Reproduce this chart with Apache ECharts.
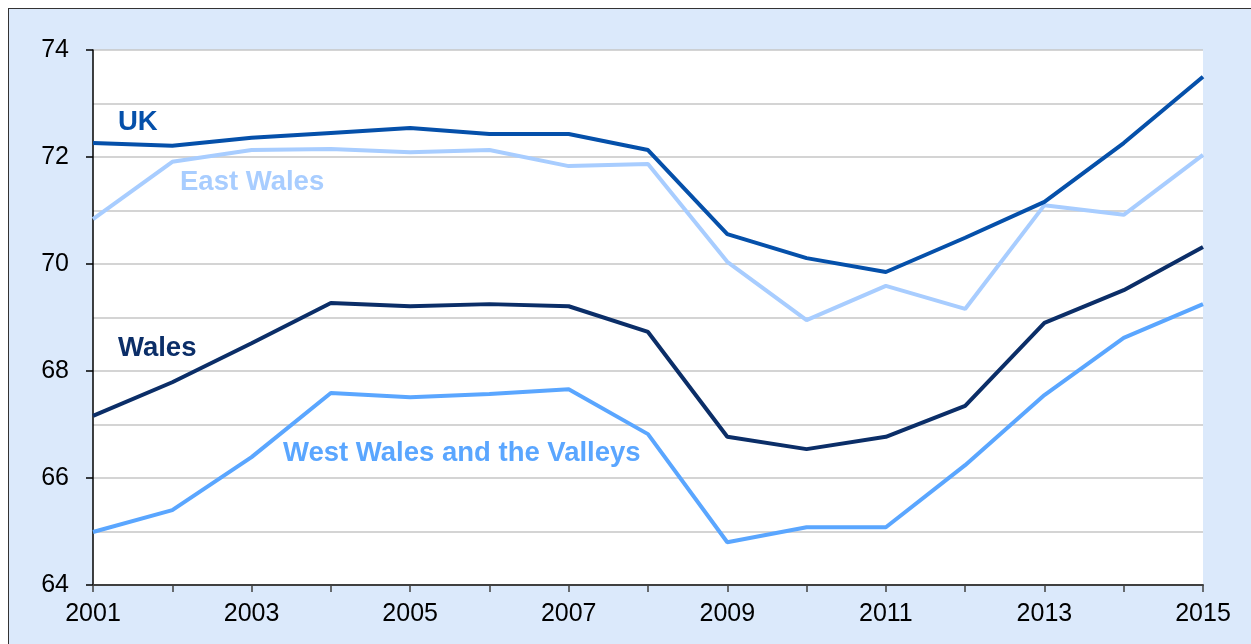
<!DOCTYPE html>
<html><head><meta charset="utf-8">
<script src="https://cdn.jsdelivr.net/npm/echarts@6/dist/echarts.min.js"></script>
<style>
html,body{margin:0;padding:0;background:#fff;width:1251px;height:644px;overflow:hidden;}
#panel{position:absolute;left:8px;top:8px;width:1300px;height:700px;background:#dbe9fb;border-left:1px solid #333;border-top:1px solid #333;}
#chart{position:absolute;left:0;top:0;width:1251px;height:644px;}
</style></head>
<body>
<div id="panel"></div>
<div id="chart"></div>
<script>
const years = [2001,2002,2003,2004,2005,2006,2007,2008,2009,2010,2011,2012,2013,2014,2015];
const uk        = [72.26,72.21,72.36,72.45,72.54,72.43,72.43,72.13,70.56,70.11,69.85,70.49,71.16,72.26,73.50];
const eastWales = [70.84,71.91,72.13,72.15,72.09,72.13,71.83,71.87,70.04,68.95,69.59,69.16,71.10,70.92,72.04];
const wales     = [67.16,67.79,68.52,69.27,69.21,69.25,69.21,68.73,66.77,66.54,66.77,67.35,68.90,69.51,70.32];
const westWales = [64.99,65.40,66.39,67.59,67.51,67.57,67.66,66.82,64.80,65.08,65.08,66.24,67.55,68.62,69.25];
const seriesNames = ['UK','East Wales','Wales','West Wales and the Valleys'];
const colors = ['#0550aa','#a8cdff','#0b2e68','#5aa6ff'];

const pair = arr => years.map((y,i)=>[y,arr[i]]);
const chart = echarts.init(document.getElementById('chart'));
const font = '"Liberation Sans", Arial, sans-serif';
const lbl = (text, x, y, color) => ({type:'text', left:x, top:y, style:{text, fill:color, font:'bold 27.5px ' + font}});
chart.setOption({
  backgroundColor:'transparent',
  animation:false,
  grid:{left:93, top:50, width:1110, height:535, show:true, backgroundColor:'#fff', borderWidth:0},
  xAxis:{type:'value', min:2001, max:2015, interval:1,
    axisLine:{lineStyle:{color:'#404040', width:2}},
    axisTick:{show:true, length:7, lineStyle:{color:'#404040', width:1.5}},
    axisLabel:{margin:17, color:'#000', fontSize:25, fontFamily:font,
      formatter:v => (v % 2 === 1) ? String(v) : ''},
    splitLine:{show:false}},
  yAxis:{type:'value', min:64, max:74, interval:2,
    axisLine:{show:true, lineStyle:{color:'#000', width:1.5}},
    axisTick:{show:true, length:7, lineStyle:{color:'#000', width:1.5}},
    axisLabel:{margin:24, color:'#000', fontSize:25, fontFamily:font},
    splitLine:{show:true, lineStyle:{color:'#c6c6c6', width:1.5}},
    minorTick:{show:false, splitNumber:2},
    minorSplitLine:{show:true, lineStyle:{color:'#c6c6c6', width:1.5}}},
  series:[uk,eastWales,wales,westWales].map((d,i)=>({
    name:seriesNames[i], type:'line', data:pair(d), showSymbol:false, symbol:'none',
    lineStyle:{color:colors[i], width:4}, z:10-i
  })),
  graphic:[
    lbl('UK',118,108,colors[0]),
    lbl('East Wales',180,168,colors[1]),
    lbl('Wales',118,334,colors[2]),
    lbl('West Wales and the Valleys',283,439,colors[3])
  ]
});
</script>
</body></html>
